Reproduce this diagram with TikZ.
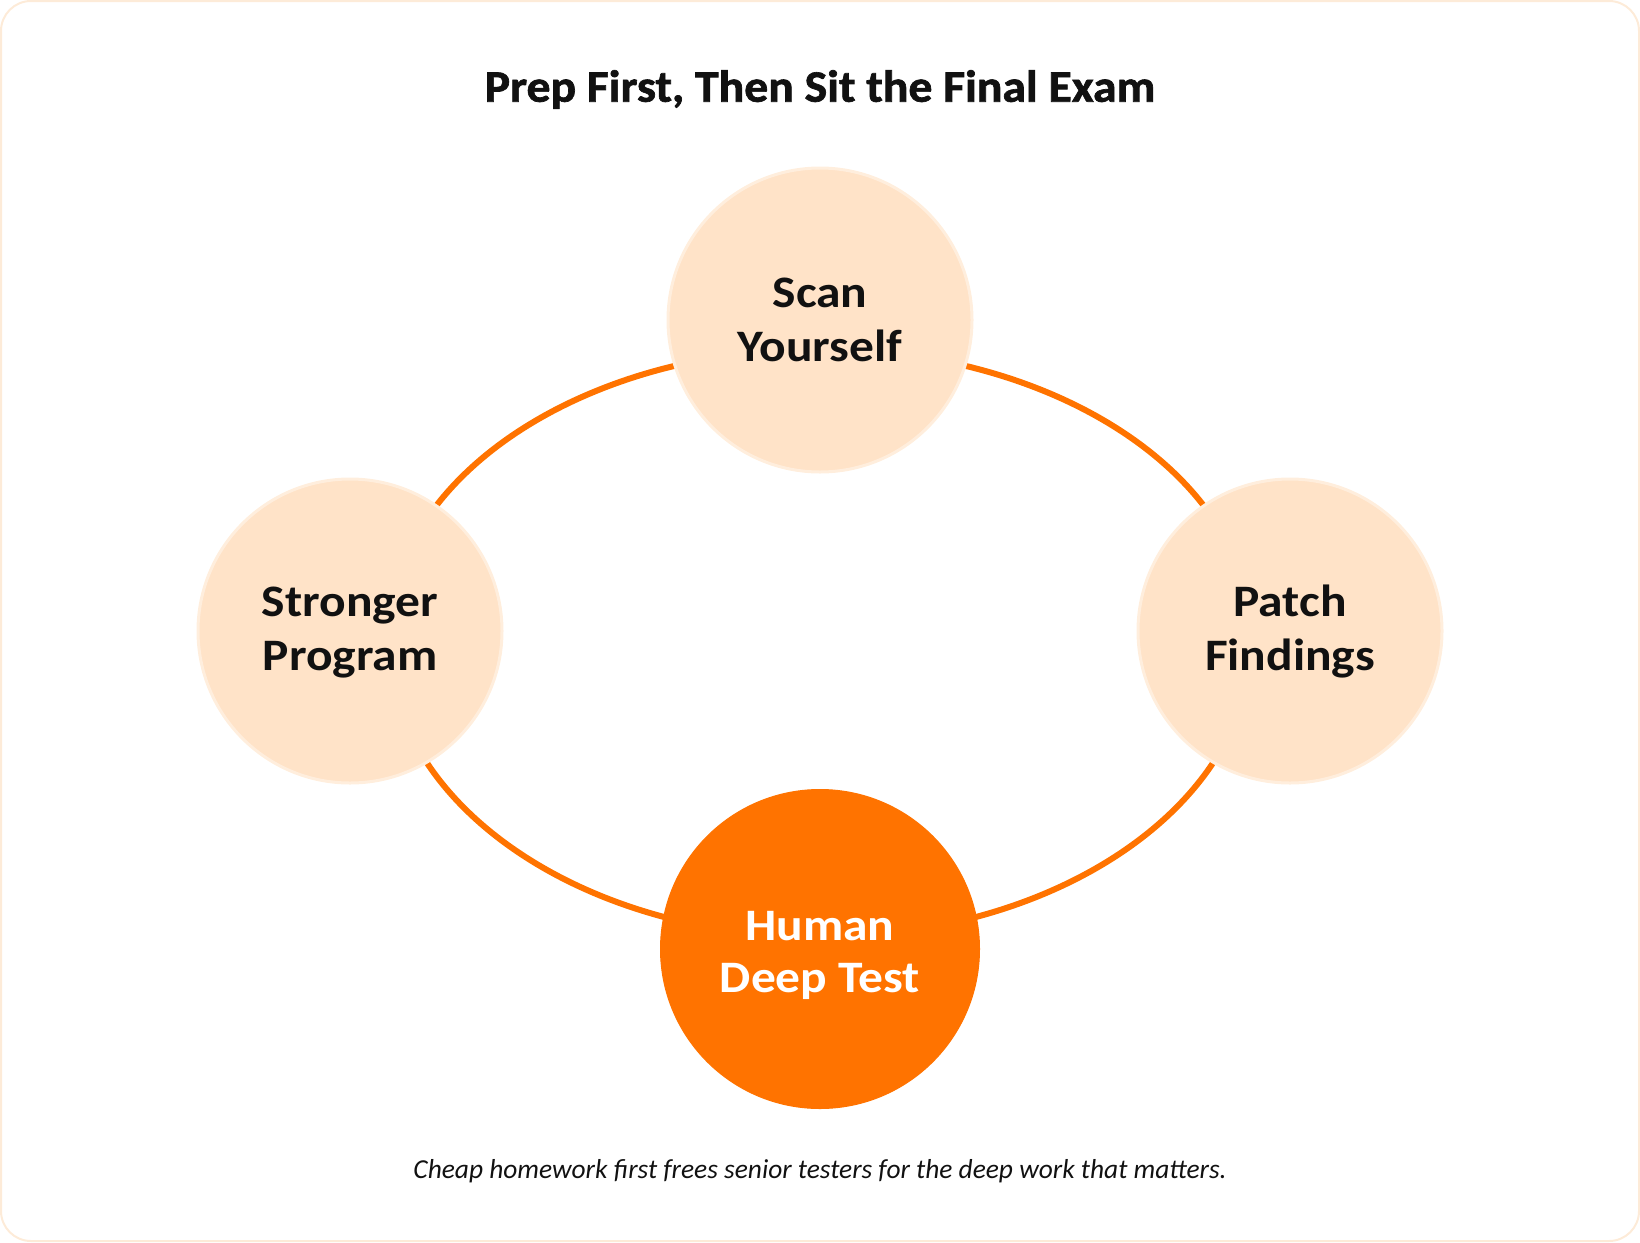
\documentclass[tikz,border=0pt]{standalone}
\usepackage{fontspec}
\setmainfont{Carlito}
\definecolor{orng}{HTML}{FF7300}
\definecolor{peach}{HTML}{FFE3C8}
\definecolor{peachedge}{HTML}{FFEEDD}
\definecolor{framec}{HTML}{FDEBD8}
\definecolor{ink}{HTML}{111111}
\begin{document}
\begin{tikzpicture}[x=1pt,y=-1pt,
  softc/.style={circle, fill=peach, draw=peachedge, line width=3pt, minimum size=304pt, inner sep=0pt},
  hotc/.style={circle, fill=orng, draw=orng, line width=1pt, minimum size=319pt, inner sep=0pt},
  lbl/.style={anchor=base, inner sep=0pt, text=ink, font=\fontsize{45}{46}\selectfont\bfseries\addfontfeatures{FakeStretch=1.1}},
  ring/.style={draw=orng, line width=6pt}]
\useasboundingbox (0,0) rectangle (1640,1242);
\draw[framec, line width=2pt, rounded corners=30pt] (1,1) rectangle (1639,1241);
\node[anchor=base, inner sep=0pt, text=ink, font=\fontsize{45}{46}\selectfont\bfseries\addfontfeatures{FakeStretch=1.06,FakeBold=1.5}] (title) at (820,101.7) {Prep First, Then Sit the Final Exam};
\coordinate (ringL) at (388,639);
\coordinate (ringR) at (1252,639);
\draw[ring] (ringL) arc[start angle=180, end angle=360, x radius=432pt, y radius=298pt];
\draw[ring] (ringR) arc[start angle=0, end angle=180, x radius=432pt, y radius=290pt];
\node[softc] (scan) at (820,320) {};
\node[softc] (stronger) at (350,631) {};
\node[softc] (patch) at (1290,631) {};
\node[hotc] (human) at (820,949) {};
\node[lbl] (scanA) at (820,307.7) {Scan};
\node[lbl] (scanB) at (820,361.7) {Yourself};
\node[lbl] (strA) at (350,616.7) {Stronger};
\node[lbl] (strB) at (350,670) {Program};
\node[lbl] (patA) at (1290,616.7) {Patch};
\node[lbl] (patB) at (1290,670) {Findings};
\node[lbl, text=white] (humA) at (820,940) {Human};
\node[lbl, text=white] (humB) at (820,992.7) {Deep Test};
\node[anchor=base, inner sep=0pt, text=ink, font=\itshape\fontsize{27.4}{30}\selectfont] (caption) at (820,1178) {Cheap homework first frees senior testers for the deep work that matters.};
\end{tikzpicture}
\end{document}
